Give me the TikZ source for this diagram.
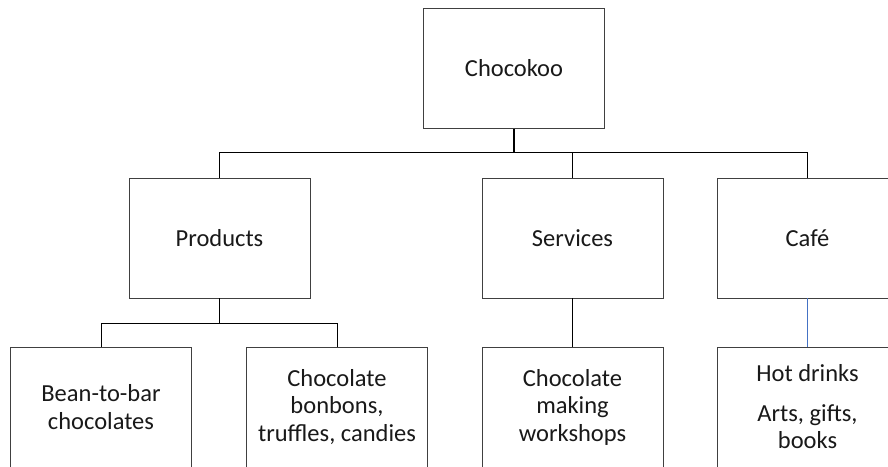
\documentclass[tikz,border=0pt]{standalone}
\usepackage{fontspec}
\setmainfont{Carlito}
\definecolor{accentblue}{RGB}{68,114,196}
\begin{document}
\begin{tikzpicture}[x=1pt,y=-1pt,
  box/.style={draw=black!75, line width=0.9pt, fill=white,
    minimum width=181pt, minimum height=120pt, inner sep=0pt,
    align=center, text=black!90,
    font=\fontsize{24.5}{27.5}\selectfont},
  link/.style={draw=black, line width=1pt},
  thick link/.style={draw=black, line width=1.6pt},
  blue link/.style={draw=accentblue, line width=1pt}]
  \useasboundingbox (0,0) rectangle (888,466);
  \clip (0,0) rectangle (888,466);

  % top level
  \node[box] (root) at (514,68.5) {Chocokoo};

  % second level
  \node[box] (prod) at (219.5,238) {Products};
  \node[box] (serv) at (572.5,238) {Services};
  \node[box] (cafe) at (807.5,238) {Café};

  % third level
  \node[box] (bean) at (101,407) {Bean-to-bar\\chocolates};
  \node[box] (bonb) at (337,407) {Chocolate\\bonbons,\\truffles, candies};
  \node[box] (work) at (572.5,407) {Chocolate\\making\\workshops};
  \node[box] (drink) at (807.5,407) {Hot drinks\\[12pt]Arts, gifts,\\books};

  % connectors from the root
  \draw[thick link] (root.south) -- ++(0,24) coordinate (bus);
  \draw[link] (bus) -| (prod.north);
  \draw[link] (bus) -| (serv.north);
  \draw[link] (bus) -| (cafe.north);

  % connectors under Products
  \draw[thick link] (prod.south) -- ++(0,25) coordinate (pbus);
  \draw[link] (pbus) -| (bean.north);
  \draw[link] (pbus) -| (bonb.north);

  % single children
  \draw[link] (serv.south) -- (work.north);
  \draw[blue link] (cafe.south) -- (drink.north);
\end{tikzpicture}
\end{document}
